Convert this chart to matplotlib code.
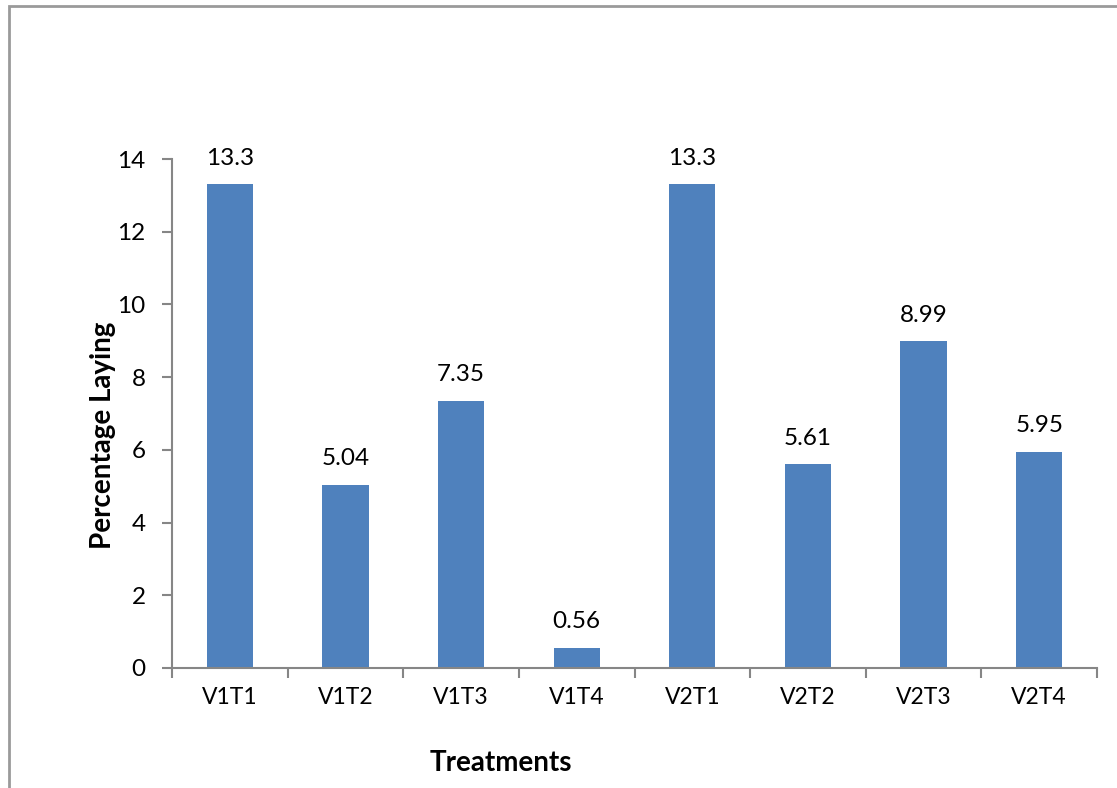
import matplotlib.pyplot as plt
import matplotlib.patches as mpatches
import numpy as np

plt.rcParams['font.family'] = ['Lato', 'DejaVu Sans']

treatments = ['V1T1', 'V1T2', 'V1T3', 'V1T4', 'V2T1', 'V2T2', 'V2T3', 'V2T4']
laying = [13.3, 5.04, 7.35, 0.56, 13.3, 5.61, 8.99, 5.95]

fig = plt.figure(figsize=(11.17, 7.88), dpi=100)
ax = fig.add_axes([172 / 1117, 1 - 668 / 788, (1097 - 172) / 1117, (668 - 159) / 788])

x = np.arange(len(treatments))
ax.bar(x, laying, width=0.4, color='#4F81BD')
for xi, v in zip(x, laying):
    ax.annotate(f'{v:g}', (xi, v), xytext=(0, 11), textcoords='offset points',
                ha='center', va='bottom', fontsize=17.5)

ax.set_xlim(-0.5, len(treatments) - 0.5)
ax.set_ylim(0, 14)
ax.set_yticks(range(0, 15, 2))
ax.set_xticks(x)
ax.set_xticklabels(treatments)
ax.set_xticks(np.arange(-0.5, len(treatments)), minor=True)
ax.tick_params(axis='x', which='major', length=0, pad=14, labelsize=16.5)
ax.tick_params(axis='x', which='minor', length=7, color='#868686', width=1.5)
ax.tick_params(axis='y', length=7, color='#868686', width=1.5, labelsize=17.5, pad=12)

for s in ['top', 'right']:
    ax.spines[s].set_visible(False)
for s in ['left', 'bottom']:
    ax.spines[s].set_color('#868686')
    ax.spines[s].set_linewidth(1.5)

fig.text(103 / 1117, 1 - 435 / 788, 'Percentage Laying', rotation=90,
         ha='center', va='center', fontsize=20, fontweight='bold')
fig.text(501 / 1117, 1 - 763 / 788, 'Treatments', ha='center', va='center',
         fontsize=20, fontweight='bold')

# chart area border (right and bottom edges fall outside the image)
fig.patches.append(mpatches.Rectangle((9 / 1117, -0.1), 1.2, 1 - 6 / 788 + 0.1,
                                      transform=fig.transFigure, fill=False,
                                      edgecolor='#9a9a9a', linewidth=2))

fig.savefig('out.png', dpi=100)
